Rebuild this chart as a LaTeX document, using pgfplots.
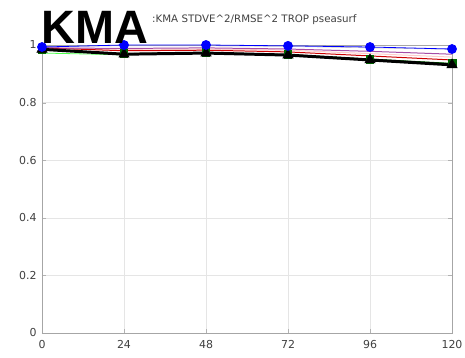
\documentclass[border=0pt]{standalone}
\usepackage{pgfplots}
\pgfplotsset{compat=1.18}
\usepackage{fontspec}
\setmainfont{DejaVu Sans}
\setsansfont{DejaVu Sans}
\newfontfamily\bigfont{Liberation Sans}
\begin{document}
\begin{tikzpicture}[x=1bp,y=1bp]
\path[use as bounding box] (-42,-24) rectangle (423,333);
\begin{axis}[
  at={(0,0)}, anchor=south west,
  width=410bp, height=288bp, scale only axis,
  xmin=0, xmax=120, ymin=0, ymax=1,
  xtick={0,24,48,72,96,120},
  ytick={0,0.2,0.4,0.6,0.8,1},
  yticklabels={0,0.2,0.4,0.6,0.8,1},
  grid=major,
  major grid style={gray!20, line width=0.4pt},
  axis line style={gray!70},
  tick style={gray!60},
  tick align=inside,
  ticklabel style={font=\fontsize{11}{12}\selectfont, text=black!75},
  xticklabel style={yshift=-4bp},
  yticklabel style={xshift=-2bp},
  /pgf/number format/assume math mode=true,
  clip=false,
]
\addplot[gray!40, line width=0.6pt] coordinates {(0,0.995)(24,0.997)(48,0.997)(72,0.995)(96,0.99)(120,0.985)};
\addplot[green!70!white, line width=0.8pt] coordinates {(0,0.972)(24,0.966)(48,0.972)(72,0.965)(96,0.95)(120,0.935)};
\addplot[pink!80!white, line width=1pt] coordinates {(0,0.99)(24,0.985)(48,0.986)(72,0.982)(96,0.97)(120,0.958)};
\addplot[red!80!black, line width=1pt] coordinates {(0,0.99)(24,0.98)(48,0.982)(72,0.976)(96,0.962)(120,0.948)};
\addplot[violet!70!white, line width=1pt] coordinates {(0,0.99)(24,0.988)(48,0.99)(72,0.986)(96,0.978)(120,0.968)};
\addplot[green!40!black, line width=1pt, mark=square*, mark size=4pt] coordinates {(0,0.985)(24,0.97)(48,0.974)(72,0.967)(96,0.951)(120,0.936)};
\addplot[black, line width=3pt, mark=triangle*, mark size=6pt, mark options={line width=0.5pt}] coordinates {(0,0.985)(24,0.968)(48,0.972)(72,0.965)(96,0.948)(120,0.931)};
\addplot[blue, line width=0.8pt, mark=*, mark size=4.5pt] coordinates {(0,0.993)(24,1.0)(48,1.0)(72,0.997)(96,0.993)(120,0.986)};
\end{axis}
\node[anchor=base west, inner sep=0pt, font=\fontsize{10.3}{12}\selectfont, text=black!75] at (110,311) {:KMA STDVE\^{}2/RMSE\^{}2 TROP pseasurf};
\node[anchor=base west, inner sep=0pt, font=\bigfont\bfseries\fontsize{47}{47}\selectfont] at (-1,290) {KMA};
\end{tikzpicture}
\end{document}
